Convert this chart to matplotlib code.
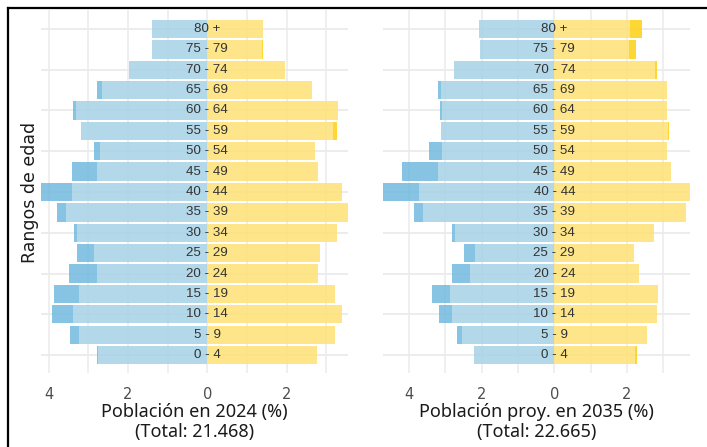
import matplotlib
matplotlib.use("Agg")
import matplotlib.pyplot as plt
from matplotlib.lines import Line2D
from matplotlib.ticker import FuncFormatter, MultipleLocator
import numpy as np

plt.rcParams['font.family'] = ['DejaVu Sans']

age_groups = ["0 - 4", "5 - 9", "10 - 14", "15 - 19", "20 - 24", "25 - 29", "30 - 34",
              "35 - 39", "40 - 44", "45 - 49", "50 - 54", "55 - 59", "60 - 64",
              "65 - 69", "70 - 74", "75 - 79", "80 +"]

# Population shares (%) 2024, from bottom (0-4) to top (80+)
male_2024 = [2.77, 3.46, 3.91, 3.86, 3.48, 3.29, 3.36, 3.78, 4.19, 3.42, 2.85, 3.17, 3.38,
             2.78, 1.98, 1.38, 1.40]
female_2024 = [2.76, 3.22, 3.39, 3.22, 2.79, 2.85, 3.27, 3.55, 3.41, 2.79, 2.71, 3.28, 3.30,
               2.64, 1.97, 1.41, 1.41]

# Projected population shares (%) 2035
male_2035 = [2.21, 2.68, 3.17, 3.35, 2.82, 2.47, 2.80, 3.86, 4.70, 4.18, 3.44, 3.12, 3.14,
             3.21, 2.77, 2.05, 2.08]
female_2035 = [2.27, 2.54, 2.81, 2.86, 2.32, 2.18, 2.74, 3.62, 3.73, 3.20, 3.09, 3.14, 3.09,
               3.11, 2.81, 2.24, 2.40]

titles = ["Población en 2024 (%)\n(Total: 21.468)",
          "Población proy. en 2035 (%)\n(Total: 22.665)"]

BLUE_LIGHT = "#a6d2e7"
BLUE_DARK = "#72b9de"
YEL_LIGHT = "#fee175"
YEL_DARK = "#fdd112"
GRID = "#ebebeb"
ALPHA = 0.85

W, H = 707, 447
fig = plt.figure(figsize=(W / 100, H / 100), dpi=100)
fig.patch.set_facecolor("white")

top_px, bot_px = 10, 373
panels = [(41, 348), (383.3, 690)]
datasets = [(male_2024, female_2024), (male_2035, female_2035)]

for (x0, x1), (male, female), title in zip(panels, datasets, titles):
    ax = fig.add_axes([x0 / W, 1 - bot_px / H, (x1 - x0) / W, (bot_px - top_px) / H])
    m = np.array(male)
    f = np.array(female)
    common = np.minimum(m, f)
    y = np.arange(len(age_groups))
    h = 0.9
    # overlapping part (light) and excess part (dark)
    ax.barh(y, -common, height=h, color=BLUE_LIGHT, alpha=ALPHA, zorder=2, linewidth=0)
    ax.barh(y, -(m - common), left=-common, height=h, color=BLUE_DARK, alpha=ALPHA,
            zorder=2, linewidth=0)
    ax.barh(y, common, height=h, color=YEL_LIGHT, alpha=ALPHA, zorder=2, linewidth=0)
    ax.barh(y, f - common, left=common, height=h, color=YEL_DARK, alpha=ALPHA,
            zorder=2, linewidth=0)
    for yi, lab in zip(y, age_groups):
        ax.text(0, yi, lab, ha="center", va="center", fontsize=9.6, color="#333333",
                family=["Liberation Sans", "DejaVu Sans"], zorder=5)

    ax.set_xlim(-m.max(), f.max())
    ax.set_ylim(-0.88, len(age_groups) - 1 + 0.93)
    ax.xaxis.set_major_locator(MultipleLocator(2))
    ax.xaxis.set_minor_locator(MultipleLocator(1))
    ax.xaxis.set_major_formatter(FuncFormatter(lambda v, p: f"{abs(v):g}"))
    ax.set_yticks(y[::2])
    ax.set_yticklabels([])
    ax.grid(True, which="both", axis="x", color=GRID, linewidth=1.1, zorder=0)
    ax.grid(True, which="major", axis="y", color=GRID, linewidth=1.3, zorder=0)
    ax.set_axisbelow(True)
    for s in ax.spines.values():
        s.set_visible(False)
    ax.tick_params(axis="both", which="both", length=0)
    ax.tick_params(axis="x", labelsize=10.5, labelcolor="#4d4d4d", pad=10)
    ax.set_xlabel(title, fontsize=13, color="#1a1a1a", linespacing=1.15, labelpad=1,
                  family=["Noto Sans", "DejaVu Sans"])

fig.text(30 / W, 1 - 192 / H, "Rangos de edad", rotation=90, ha="center", va="center",
         fontsize=12.5, color="#1a1a1a")

# outer frame (left and top edges visible)
fig.add_artist(Line2D([8 / W, 8 / W], [0, 1 - 8 / H], color="black", linewidth=1.6,
                      transform=fig.transFigure))
fig.add_artist(Line2D([8 / W, 1], [1 - 8 / H, 1 - 8 / H], color="black", linewidth=1.6,
                      transform=fig.transFigure))

fig.savefig("out.png", dpi=100, facecolor="white")
